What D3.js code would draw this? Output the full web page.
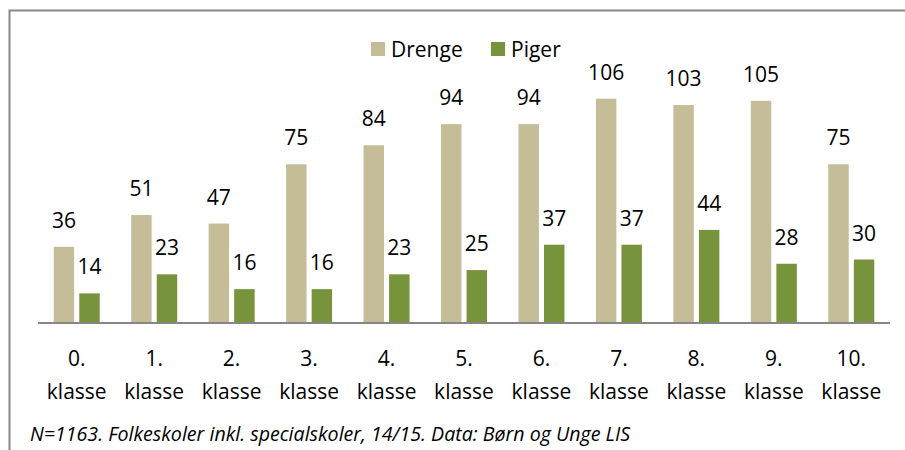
<!DOCTYPE html>
<html>
<head>
<meta charset="utf-8">
<script src="https://cdn.jsdelivr.net/npm/d3@7"></script>
<style>
  body { margin: 0; background: #fff; }
  text { font-family: "Open Sans", sans-serif; fill: #000; }
</style>
</head>
<body>
<svg id="svg" width="905" height="450"></svg>
<script>
// data
const grades = ["0.", "1.", "2.", "3.", "4.", "5.", "6.", "7.", "8.", "9.", "10."]
const series = ["Drenge", "Piger"]
const drenge = [36, 51, 47, 75, 84, 94, 94, 106, 103, 105, 75]
const piger = [14, 23, 16, 16, 23, 25, 37, 37, 44, 28, 30]
const note = "N=1163. Folkeskoler inkl. specialskoler, 14/15. Data: Børn og Unge LIS"

const colors = {Drenge: "#c4bd97", Piger: "#77933c"}
const rows = grades.map((g, i) => ({grade: g, Drenge: drenge[i], Piger: piger[i]}))

const svg = d3.select("#svg")

// frame (extends past the right/bottom of the crop)
svg.append("path")
    .attr("d", "M9.5,450 V10.5 H905")
    .attr("fill", "none")
    .attr("stroke", "#888")
    .attr("stroke-width", 2)

const baseY = 323

const x0 = d3.scaleBand()
    .domain(grades)
    .range([38, 890])
    .paddingInner(0.406)
    .paddingOuter(0.203)

const x1 = d3.scaleBand()
    .domain(series)
    .range([0, x0.bandwidth()])
    .paddingInner(0.2)

const y = d3.scaleLinear()
    .domain([0, 120])
    .range([baseY, baseY - 120 * 2.116])

const groups = svg.append("g")
  .selectAll("g")
  .data(rows)
  .join("g")
    .attr("transform", d => `translate(${x0(d.grade)},0)`)

groups.selectAll("rect")
  .data(d => series.map(s => ({key: s, value: d[s]})))
  .join("rect")
    .attr("x", d => x1(d.key))
    .attr("y", d => y(d.value))
    .attr("width", x1.bandwidth())
    .attr("height", d => y(0) - y(d.value))
    .attr("fill", d => colors[d.key])

groups.selectAll("text.val")
  .data(d => series.map(s => ({key: s, value: d[s]})))
  .join("text")
    .attr("class", "val")
    .attr("x", d => x1(d.key) + x1.bandwidth() / 2)
    .attr("y", d => y(d.value) - 19)
    .attr("text-anchor", "middle")
    .style("font-size", "21px")
    .text(d => d.value)

// axis line
svg.append("line")
    .attr("x1", 38).attr("x2", 890)
    .attr("y1", baseY).attr("y2", baseY)
    .attr("stroke", "#868686")
    .attr("stroke-width", 2)

// category labels
const xAxis = svg.append("g")
xAxis.selectAll("text")
  .data(grades)
  .join("text")
    .attr("text-anchor", "middle")
    .style("font-size", "21px")
    .each(function(d) {
      const t = d3.select(this)
      const cx = x0(d) + x0.bandwidth() / 2
      t.append("tspan").attr("x", cx).attr("y", 366).text(d)
      t.append("tspan").attr("x", cx).attr("y", 399).text("klasse")
    })

// legend
const legend = svg.append("g")
const legendX = {Drenge: 371, Piger: 491}
series.forEach(s => {
  legend.append("rect")
      .attr("x", legendX[s]).attr("y", 42)
      .attr("width", 14).attr("height", 14)
      .attr("fill", colors[s])
  legend.append("text")
      .attr("x", legendX[s] + 20).attr("y", 57)
      .style("font-size", "21px")
      .text(s)
})

// footnote
svg.append("text")
    .attr("x", 30).attr("y", 441)
    .style("font-size", "19.6px")
    .style("font-style", "italic")
    .text(note)
</script>
</body>
</html>
